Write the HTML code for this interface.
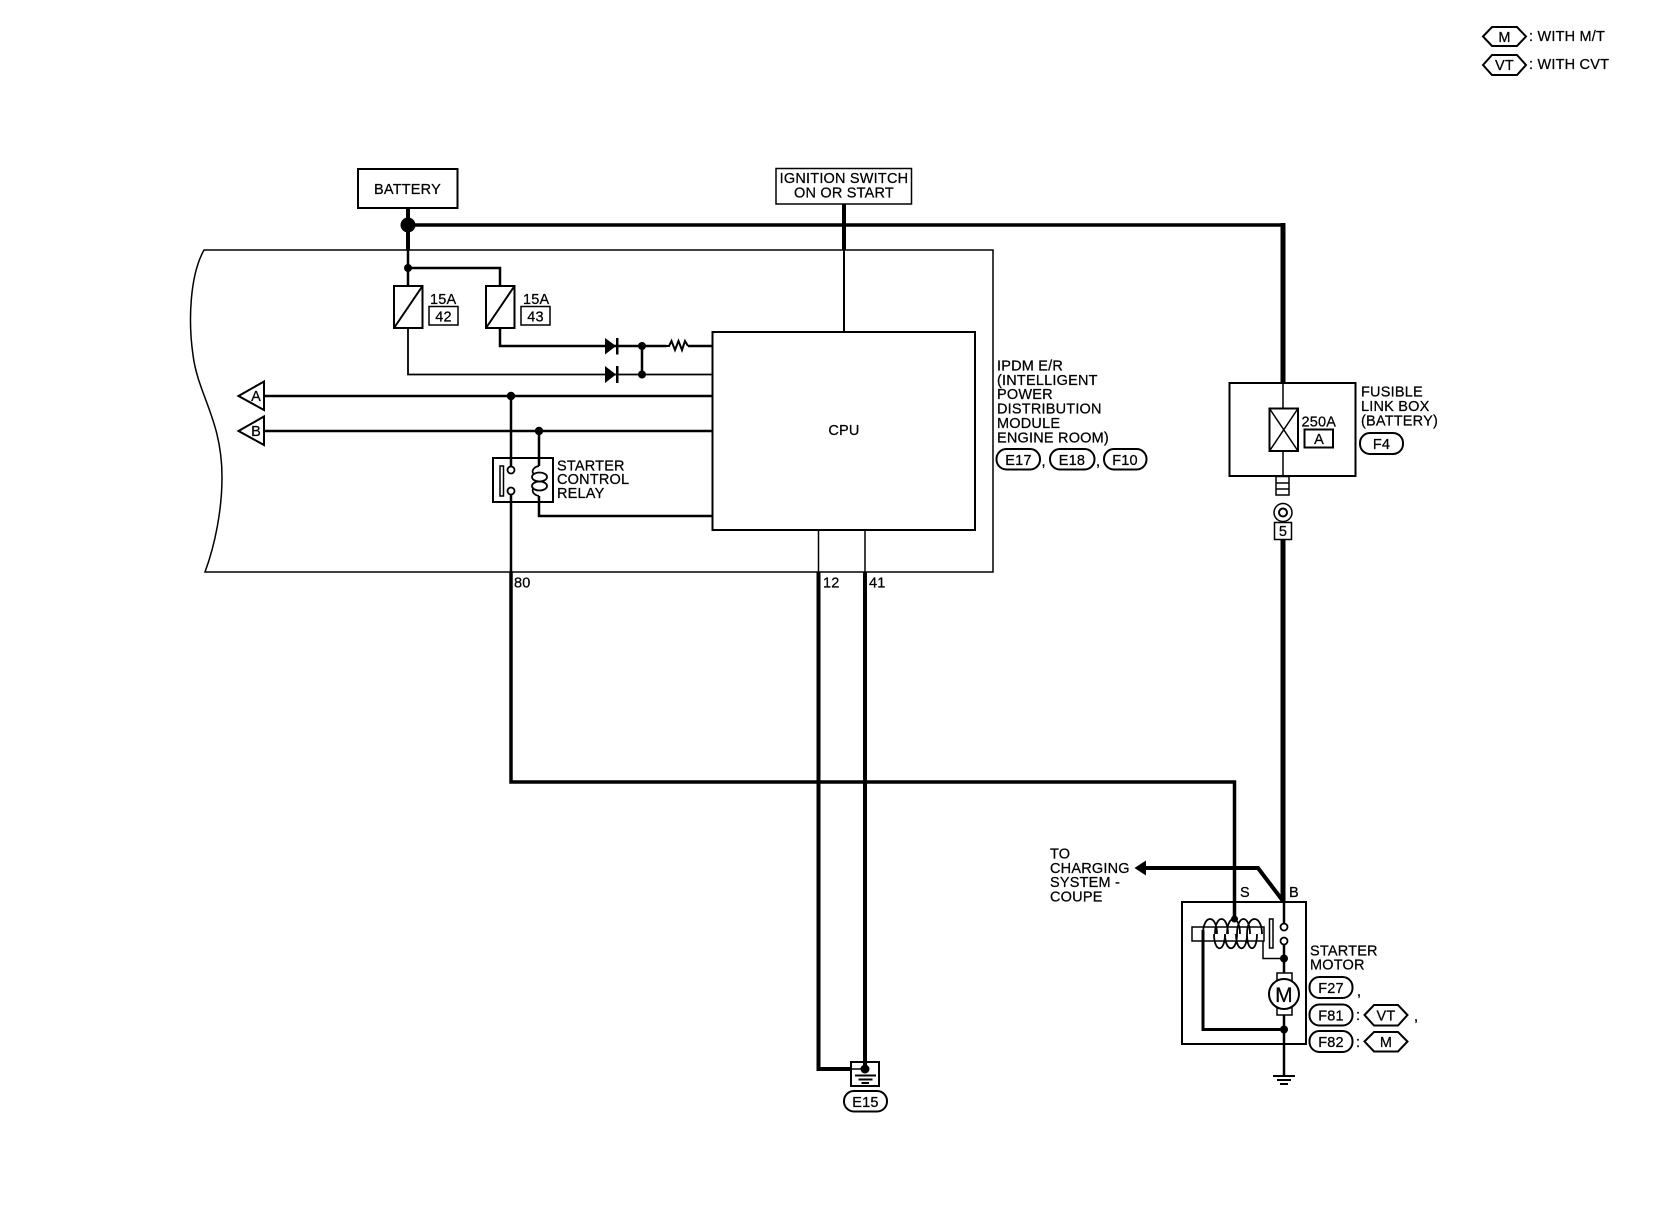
<!DOCTYPE html>
<html><head><meta charset="utf-8"><style>
html,body{margin:0;padding:0;background:#fff}
svg{display:block}
text{font-family:"Liberation Sans",sans-serif;font-size:14.5px;letter-spacing:.2px;fill:#000;stroke:#000;stroke-width:.25px}
.m{text-anchor:middle}
.f{fill:none;stroke:#000}
.w{fill:#fff;stroke:#000}
.k{fill:#000;stroke:none}
</style></head><body>
<svg width="1660" height="1216" viewBox="0 0 1660 1216" xmlns="http://www.w3.org/2000/svg">
<rect width="1660" height="1216" fill="#fff"/>
<!-- legend -->
<path class="f" stroke-width="2" d="M1483 36.500L1492 27H1517L1526 36.500L1517 46H1492Z"/>
<path class="f" stroke-width="2" d="M1483 65L1492 55H1517L1526 65L1517 75H1492Z"/>
<text class="m" x="1504.500" y="42">M</text><text class="m" x="1504.500" y="70">VT</text>
<text x="1529" y="41">: WITH M/T</text><text x="1529" y="69">: WITH CVT</text>
<!-- frame -->
<path class="f" stroke-width="1.500" d="M993 250H204C190 275 188 320 193 355C198 395 222 420 222 477C222 510 215 545 205 572H993V250Z"/>
<!-- battery -->
<rect class="w" stroke-width="2" x="358" y="169" width="99.500" height="39"/>
<text class="m" x="407.500" y="194">BATTERY</text>
<path class="f" stroke-width="4" d="M408 208V250"/>
<circle class="k" cx="408" cy="225" r="7.500"/>
<path class="f" stroke-width="3.500" d="M408 225H1283"/>
<path class="f" stroke-width="5" d="M1283 223V383"/>
<!-- ignition -->
<rect class="w" stroke-width="1.500" x="776" y="168.500" width="135.500" height="35.500"/>
<text class="m" x="844" y="183">IGNITION SWITCH</text>
<text class="m" x="844" y="197.500">ON OR START</text>
<path class="f" stroke-width="4" d="M844 204V250"/>
<path class="f" stroke-width="2" d="M844 250V332"/>
<!-- fuses -->
<path class="f" stroke-width="2.500" d="M408 250V286M408 268H500V286"/>
<circle class="k" cx="408" cy="268" r="4"/>
<rect class="w" stroke-width="2" x="394" y="286" width="28.500" height="42"/>
<path class="f" stroke-width="2" d="M394 328L422.500 286"/>
<rect class="w" stroke-width="2" x="486" y="286" width="28.500" height="42"/>
<path class="f" stroke-width="2" d="M486 328L514.500 286"/>
<text x="430" y="304">15A</text><text x="523" y="304">15A</text>
<rect class="w" stroke-width="1.500" x="429" y="306.500" width="29" height="18.500"/>
<rect class="w" stroke-width="1.500" x="521" y="306.500" width="29" height="18.500"/>
<text class="m" x="443.500" y="321.500">42</text><text class="m" x="535.500" y="321.500">43</text>
<path class="f" stroke-width="2.500" d="M500 328V346H666.500"/>
<path class="f" stroke-width="2.500" d="M642 346V374M688 346H712"/>
<path class="f" stroke-width="1.800" d="M408 328V374.500H712"/>
<path class="f" stroke-width="2" d="M666 346L669 346L671.500 341L675 350L678.500 341L682 350L685 341L688 346"/>
<path class="k" d="M605 338L616 346L605 354.500Z"/><rect class="k" x="616" y="338" width="2.500" height="16.500"/>
<path class="k" d="M605 366L616 374.500L605 383Z"/><rect class="k" x="616" y="366" width="2.500" height="17"/>
<circle class="k" cx="642" cy="346" r="4"/><circle class="k" cx="642" cy="374.500" r="4"/>
<!-- CPU -->
<rect class="w" stroke-width="2" x="712.500" y="332" width="262.500" height="198"/>
<text class="m" x="844" y="435">CPU</text>
<!-- A/B -->
<path class="f" stroke-width="2" d="M264 381.500V410L238.500 396Z"/>
<path class="f" stroke-width="2" d="M264 416.500V445L238.500 431Z"/>
<text class="m" x="256" y="401">A</text><text class="m" x="256" y="436">B</text>
<path class="f" stroke-width="2.500" d="M264 396H712M264 431H712"/>
<circle class="k" cx="511" cy="396" r="4.200"/><circle class="k" cx="539" cy="431" r="4.200"/>
<!-- relay -->
<rect class="w" stroke-width="2" x="493" y="458" width="60" height="44"/>
<path class="f" stroke-width="2.500" d="M511 396V466.500M511 494.500V572"/>
<path class="f" stroke-width="3.500" d="M511 572V782H1234.500V919"/>
<rect class="f" stroke-width="1.500" x="500" y="466" width="3.500" height="30"/>
<circle class="w" stroke-width="1.800" cx="511" cy="470" r="3.500"/>
<circle class="w" stroke-width="1.800" cx="511" cy="491" r="3.500"/>
<path class="f" stroke-width="2.500" d="M539 431V466M539 496V516H712"/>
<path class="f" stroke-width="1.800" d="M539 466C533 467 531 472 534 474M539 496C533 495 531 490 534 488"/>
<ellipse class="f" stroke-width="1.800" cx="539.500" cy="477" rx="7.500" ry="4.500"/>
<ellipse class="f" stroke-width="1.800" cx="539.500" cy="486" rx="7.500" ry="4.500"/>
<text x="557" y="470.500">STARTER</text><text x="557" y="484">CONTROL</text><text x="557" y="498">RELAY</text>
<!-- IPDM -->
<text x="997" y="370.500">IPDM E/R</text><text x="997" y="385">(INTELLIGENT</text><text x="997" y="399">POWER</text>
<text x="997" y="413.500">DISTRIBUTION</text><text x="997" y="428">MODULE</text><text x="997" y="442.500">ENGINE ROOM)</text>
<rect class="f" stroke-width="2" x="996.500" y="449" width="43.500" height="20.500" rx="10"/>
<rect class="f" stroke-width="2" x="1050" y="449" width="44.500" height="20.500" rx="10"/>
<rect class="f" stroke-width="2" x="1104" y="449" width="42.500" height="20.500" rx="10"/>
<text class="m" x="1018.500" y="465">E17</text><text class="m" x="1072" y="465">E18</text><text class="m" x="1125" y="465">F10</text>
<text x="1041.500" y="466">,</text><text x="1096" y="466">,</text>
<!-- 80,12,41 -->
<path class="f" stroke-width="1.500" d="M818.500 530V572M865 530V572"/>
<path class="f" stroke-width="4" d="M818.500 572V1069H851M865 572V1069"/>
<text x="514" y="587.500">80</text><text x="823" y="587.500">12</text><text x="869" y="587.500">41</text>
<!-- ground E15 -->
<rect class="f" stroke-width="2" x="851" y="1062" width="28" height="24"/>
<path class="f" stroke-width="1.500" d="M851 1069H865"/>
<circle class="k" cx="865" cy="1069" r="4.500"/>
<path class="f" stroke-width="2" d="M855 1075.500H876M858.500 1079.500H872.500M861.500 1083H869"/>
<rect class="f" stroke-width="2" x="844" y="1091" width="43" height="20.500" rx="10"/>
<text class="m" x="865.500" y="1107">E15</text>
<!-- fusible link -->
<rect class="w" stroke-width="2" x="1229.500" y="383" width="126" height="93"/>
<path class="f" stroke-width="1.500" d="M1283 383V408M1283 451V476"/>
<rect class="w" stroke-width="2" x="1269.500" y="408.500" width="28.500" height="42.500"/>
<path class="f" stroke-width="1.500" d="M1269.500 408.500L1298 451M1298 408.500L1269.500 451"/>
<text x="1301.500" y="426.500">250A</text>
<rect class="w" stroke-width="2" x="1304.500" y="429.500" width="28.500" height="18"/>
<text class="m" x="1319" y="444">A</text>
<text x="1361" y="396.500">FUSIBLE</text><text x="1361" y="411">LINK BOX</text><text x="1361" y="425.500">(BATTERY)</text>
<rect class="f" stroke-width="2" x="1360" y="433" width="43" height="21" rx="10"/>
<text class="m" x="1381.500" y="449">F4</text>
<path class="f" stroke-width="1.500" d="M1276 476.500H1289V495H1276ZM1276 483H1289M1276 489H1289"/>
<circle class="f" stroke-width="1.500" cx="1283" cy="512.500" r="9"/>
<circle class="f" stroke-width="2" cx="1283" cy="512.500" r="4"/>
<rect class="f" stroke-width="1.500" x="1274.500" y="522.500" width="17" height="17"/>
<text class="m" x="1283" y="536">5</text>
<path class="f" stroke-width="5" d="M1283 539.500V902"/>
<!-- to charging -->
<path class="f" stroke-width="4" d="M1146 868H1258L1283 901"/>
<path class="k" d="M1134.500 868L1146 860.500V875.500Z"/>
<text x="1050" y="858.500">TO</text><text x="1050" y="873">CHARGING</text><text x="1050" y="887">SYSTEM -</text><text x="1050" y="901.500">COUPE</text>
<text x="1240" y="897">S</text><text x="1289" y="897">B</text>
<!-- starter -->
<rect class="f" stroke-width="2" x="1182" y="902" width="124" height="142"/>
<rect class="f" stroke-width="1.500" x="1192" y="927" width="72" height="14"/>
<path class="f" stroke-width="1.800" d="M1203 934C1203 914 1217 914 1217 934M1215 934C1215 914 1228 914 1228 934M1227 934C1227 914 1240 914 1240 934M1237 934C1237 914 1250 914 1250 934M1247 934C1247 914 1262 914 1262 934"/>
<path class="f" stroke-width="1.800" d="M1214 934C1214 953 1225 953 1225 934M1225 934C1225 953 1237 953 1237 934M1236 934C1236 953 1247 953 1247 934M1247 934C1247 953 1257 953 1257 934"/>
<circle class="k" cx="1234.500" cy="919" r="3.500"/>
<rect class="w" stroke-width="1.500" x="1269.500" y="919" width="3.500" height="29"/>
<path class="f" stroke-width="2.500" d="M1284 902V923M1284 944V973M1284 1015V1076"/>
<circle class="w" stroke-width="1.800" cx="1284" cy="927" r="3.500"/>
<circle class="w" stroke-width="1.800" cx="1284" cy="941" r="3.500"/>
<path class="f" stroke-width="1.500" d="M1263 941V958.500H1284"/>
<circle class="k" cx="1284" cy="958.500" r="4"/>
<rect class="w" stroke-width="1.500" x="1277" y="973" width="15" height="42"/>
<circle class="w" stroke-width="2" cx="1284" cy="994" r="15"/>
<text class="m" x="1284" y="1002" style="font-size:21px">M</text>
<path class="f" stroke-width="3" d="M1203 930V1029.500H1284"/>
<circle class="k" cx="1284" cy="1029.500" r="4"/>
<path class="f" stroke-width="2" d="M1273 1076H1295M1277 1080H1291M1280 1084H1288"/>
<text x="1310" y="955.500">STARTER</text><text x="1310" y="969.500">MOTOR</text>
<rect class="f" stroke-width="2" x="1309.500" y="977" width="43" height="21" rx="10"/>
<rect class="f" stroke-width="2" x="1309.500" y="1004.500" width="43" height="21" rx="10"/>
<rect class="f" stroke-width="2" x="1309.500" y="1031" width="43" height="21" rx="10"/>
<text class="m" x="1331" y="993">F27</text><text class="m" x="1331" y="1020.500">F81</text><text class="m" x="1331" y="1047">F82</text>
<text x="1357" y="996">,</text><text x="1356" y="1020">:</text><text x="1356" y="1047">:</text>
<path class="f" stroke-width="2" d="M1364.500 1015L1374 1005H1398L1407.500 1015L1398 1025.500H1374Z"/>
<path class="f" stroke-width="2" d="M1364.500 1041.500L1374 1032H1398L1407.500 1041.500L1398 1051.500H1374Z"/>
<text class="m" x="1386" y="1020.500">VT</text><text class="m" x="1386" y="1047">M</text>
<text x="1414" y="1021">,</text>
</svg>
</body></html>
